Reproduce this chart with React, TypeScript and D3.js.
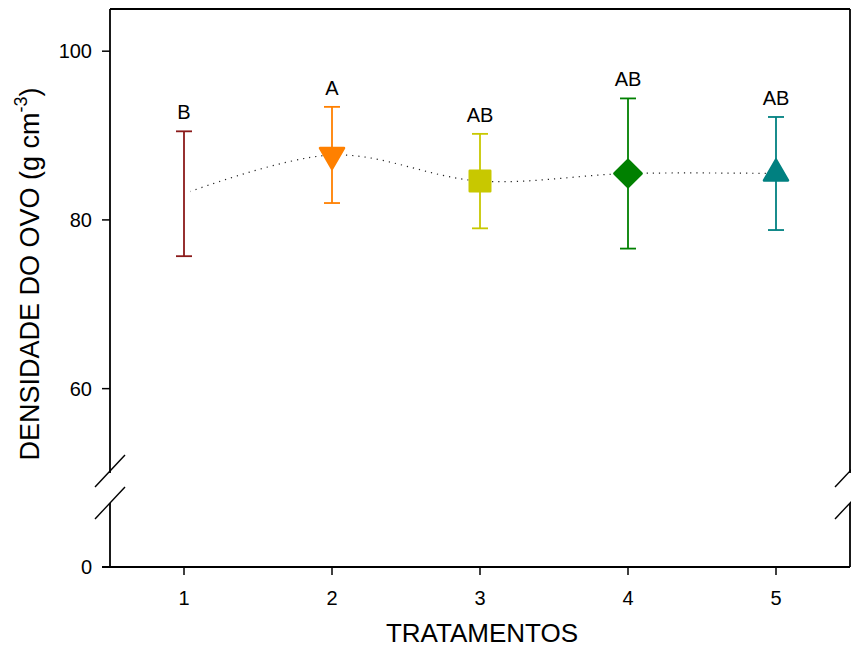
import React, { useEffect, useRef } from "react";
import * as d3 from "d3";

const treatments = [1, 2, 3, 4, 5];
const means = [83.1, 87.7, 84.6, 85.5, 85.5];
const errors = [7.4, 5.7, 5.6, 8.9, 6.7];
const letters = ["B", "A", "AB", "AB", "AB"];
const colors = ["#8b1a1a", "#ff8000", "#c8c800", "#008000", "#008080"];
const shapes = ["none", "triangleDown", "square", "diamond", "triangleUp"];
const yTicksUpper = [60, 80, 100];
const yTicksLower = [0];

const App = () => {
  const svgRef = useRef<SVGSVGElement>(null);

  useEffect(() => {
    const w = 851;
    const h = 657;
    const left = 110;
    const right = 850;
    const top = 9;
    const bottom = 567;
    const breakTop = 473;
    const breakBottom = 503;
    const font = "'Liberation Sans', Arial, sans-serif";

    const svg = d3.select(svgRef.current).attr("width", w).attr("height", h);
    svg.selectAll("*").remove();

    const x = d3.scaleLinear().domain([0.5, 5.5]).range([left, right]);
    const y = d3.scaleLinear().domain([50, 105]).range([breakTop, top]);
    const yLow = d3.scaleLinear().domain([0, 4]).range([bottom, breakBottom]);

    const data = treatments.map((t, i) => ({
      t,
      mean: means[i],
      err: errors[i],
      letter: letters[i],
      color: colors[i],
      shape: shapes[i],
    }));

    // frame
    const frame = svg.append("g").attr("stroke", "#000").attr("stroke-width", 1.8).attr("fill", "none");
    frame.append("line").attr("x1", left).attr("x2", right).attr("y1", top).attr("y2", top);
    frame.append("line").attr("x1", left - 8).attr("x2", right).attr("y1", bottom).attr("y2", bottom);
    [left, right].forEach((xx) => {
      frame.append("line").attr("x1", xx).attr("x2", xx).attr("y1", top).attr("y2", breakTop);
      frame.append("line").attr("x1", xx).attr("x2", xx).attr("y1", breakBottom).attr("y2", bottom);
      [breakTop - 2, breakBottom].forEach((yy) => {
        frame
          .append("line")
          .attr("stroke-width", 1.4)
          .attr("x1", xx - 15)
          .attr("y1", yy + 16)
          .attr("x2", xx + 15)
          .attr("y2", yy - 16);
      });
    });

    // y ticks
    const yt = svg.append("g");
    const allTicks = [
      ...yTicksUpper.map((v) => ({ v, py: y(v) })),
      ...yTicksLower.map((v) => ({ v, py: yLow(v) })),
    ];
    allTicks.forEach((d) => {
      yt.append("line")
        .attr("x1", left - 8)
        .attr("x2", left)
        .attr("y1", d.py)
        .attr("y2", d.py)
        .attr("stroke", "#000")
        .attr("stroke-width", 1.5);
      yt.append("text")
        .attr("x", left - 18)
        .attr("y", d.py)
        .attr("dy", "0.36em")
        .attr("text-anchor", "end")
        .attr("font-family", font)
        .attr("font-size", 20)
        .attr("fill", "#000")
        .text(d.v);
    });

    // x ticks
    const xt = svg.append("g");
    treatments.forEach((t) => {
      xt.append("line")
        .attr("x1", x(t))
        .attr("x2", x(t))
        .attr("y1", bottom)
        .attr("y2", bottom + 8)
        .attr("stroke", "#000")
        .attr("stroke-width", 1.5);
      xt.append("text")
        .attr("x", x(t))
        .attr("y", 605)
        .attr("text-anchor", "middle")
        .attr("font-family", font)
        .attr("font-size", 20)
        .attr("fill", "#000")
        .text(t);
    });

    // axis titles
    svg
      .append("text")
      .attr("x", (left + right) / 2 + 2)
      .attr("y", 642)
      .attr("text-anchor", "middle")
      .attr("font-family", font)
      .attr("font-size", 26)
      .attr("fill", "#000")
      .text("TRATAMENTOS");

    const yTitle = svg
      .append("text")
      .attr("transform", "translate(39, 274) rotate(-90)")
      .attr("text-anchor", "middle")
      .attr("font-family", font)
      .attr("font-size", 27)
      .attr("fill", "#000");
    yTitle.append("tspan").text("DENSIDADE DO OVO (g cm");
    yTitle.append("tspan").attr("font-size", 18).attr("dy", -12).text("-3");
    yTitle.append("tspan").attr("dy", 12).text(")");

    // dotted smoothed line through means
    const line = d3
      .line<any>()
      .x((d) => x(d.t))
      .y((d) => y(d.mean))
      .curve(d3.curveCardinal);
    svg
      .append("path")
      .datum(data)
      .attr("d", line)
      .attr("fill", "none")
      .attr("stroke", "#222")
      .attr("stroke-width", 1.2)
      .attr("stroke-dasharray", "1.2,5");

    // hide line start under first point
    svg
      .append("circle")
      .attr("cx", x(data[0].t))
      .attr("cy", y(data[0].mean))
      .attr("r", 7)
      .attr("fill", "#fff");

    // error bars
    const bars = svg.selectAll("g.bar").data(data).join("g").attr("class", "bar");
    bars
      .append("line")
      .attr("x1", (d) => x(d.t))
      .attr("x2", (d) => x(d.t))
      .attr("y1", (d) => y(d.mean + d.err))
      .attr("y2", (d) => y(d.mean - d.err))
      .attr("stroke", (d) => d.color)
      .attr("stroke-width", 1.8);
    [1, -1].forEach((s) => {
      bars
        .append("line")
        .attr("x1", (d) => x(d.t) - 8)
        .attr("x2", (d) => x(d.t) + 8)
        .attr("y1", (d) => y(d.mean + s * d.err))
        .attr("y2", (d) => y(d.mean + s * d.err))
        .attr("stroke", (d) => d.color)
        .attr("stroke-width", 1.8);
    });

    // markers
    const symbolPath = (shape: string) => {
      if (shape === "triangleDown" || shape === "triangleUp")
        return d3.symbol().type(d3.symbolTriangle).size(250)();
      if (shape === "square") return d3.symbol().type(d3.symbolSquare).size(420)();
      if (shape === "diamond") return d3.symbol().type(d3.symbolSquare).size(370)();
      return null;
    };
    const rot = (shape: string) =>
      shape === "triangleDown" ? 180 : shape === "diamond" ? 45 : 0;

    svg
      .selectAll("path.marker")
      .data(data.filter((d) => d.shape !== "none"))
      .join("path")
      .attr("class", "marker")
      .attr("d", (d) => symbolPath(d.shape))
      .attr("transform", (d) => `translate(${x(d.t)},${y(d.mean)}) rotate(${rot(d.shape)})`)
      .attr("fill", (d) => d.color)
      .attr("stroke", (d) => d.color)
      .attr("stroke-width", 2.5)
      .attr("stroke-linejoin", "round");

    // letters
    svg
      .selectAll("text.letter")
      .data(data)
      .join("text")
      .attr("class", "letter")
      .attr("x", (d) => x(d.t))
      .attr("y", (d) => y(d.mean + d.err) - 12)
      .attr("text-anchor", "middle")
      .attr("font-family", font)
      .attr("font-size", 20)
      .attr("fill", "#000")
      .text((d) => d.letter);
  }, []);

  return <svg ref={svgRef} style={{ position: "absolute", left: 0, top: 0 }} />;
};

export default App;
